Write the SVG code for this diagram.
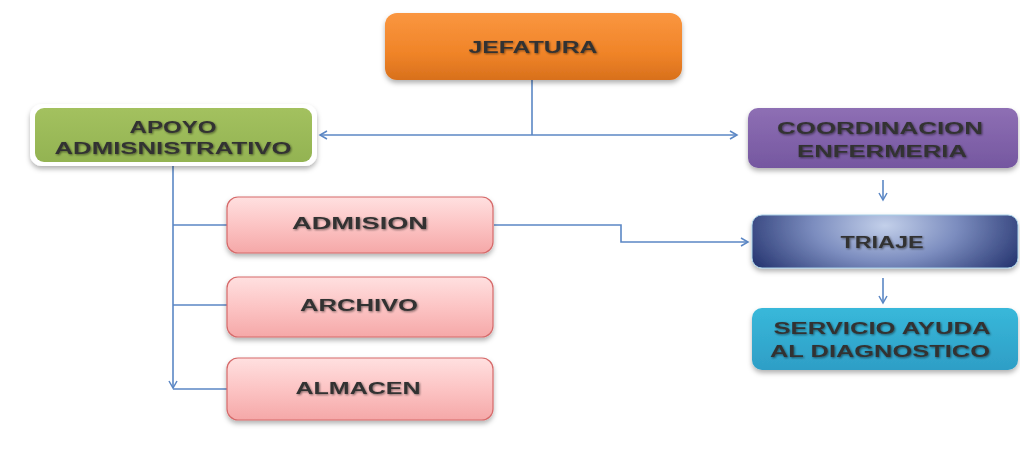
<svg xmlns="http://www.w3.org/2000/svg" width="1020" height="450" viewBox="0 0 1020 450">
<defs>
<linearGradient id="gOrange" x1="0" y1="0" x2="0" y2="1"><stop offset="0" stop-color="#FA9640"/><stop offset="0.6" stop-color="#F08428"/><stop offset="1" stop-color="#D8701C"/></linearGradient>
<linearGradient id="gGreen" x1="0" y1="0" x2="0" y2="1"><stop offset="0" stop-color="#A3C15F"/><stop offset="1" stop-color="#93B352"/></linearGradient>
<linearGradient id="gPurple" x1="0" y1="0" x2="0" y2="1"><stop offset="0" stop-color="#8E6FB4"/><stop offset="1" stop-color="#7557A0"/></linearGradient>
<radialGradient id="gNavy" cx="0.5" cy="0.2" r="0.6" gradientTransform="translate(0.5 0.2) scale(1 2.5) translate(-0.5 -0.2)"><stop offset="0" stop-color="#C3D0EA"/><stop offset="0.45" stop-color="#7C8DBF"/><stop offset="1" stop-color="#1F2E6A"/></radialGradient>
<linearGradient id="gCyan" x1="0" y1="0" x2="0" y2="1"><stop offset="0" stop-color="#38B8DA"/><stop offset="1" stop-color="#2E9EC6"/></linearGradient>
<linearGradient id="gPink" x1="0" y1="0" x2="0" y2="1"><stop offset="0" stop-color="#FFE0E0"/><stop offset="0.5" stop-color="#FCC4C4"/><stop offset="1" stop-color="#F5A8A8"/></linearGradient>
<filter id="sh" x="-10%" y="-20%" width="120%" height="150%"><feDropShadow dx="0" dy="3" stdDeviation="2.5" flood-color="#000" flood-opacity="0.3"/></filter>
<filter id="tsh" x="-5%" y="-20%" width="110%" height="140%"><feGaussianBlur in="SourceAlpha" stdDeviation="0.8" result="b"/><feOffset in="b" dx="0.5" dy="0.8" result="o"/><feFlood flood-color="#000" flood-opacity="0.5"/><feComposite in2="o" operator="in" result="s"/><feMerge><feMergeNode in="s"/><feMergeNode in="SourceGraphic"/></feMerge></filter>
<marker id="arr" markerWidth="10" markerHeight="10" refX="8" refY="5" orient="auto" markerUnits="userSpaceOnUse"><path d="M1,1 L8,5 L1,9" fill="none" stroke="#5B87C5" stroke-width="1.5"/></marker>
</defs>
<style>
.t{font-family:"Liberation Sans",Arial,sans-serif;font-weight:bold;font-size:16px;fill:#333;text-anchor:middle;filter:url(#tsh)}
.c{fill:none;stroke:#5B87C5;stroke-width:1.6}
.box{filter:url(#sh)}
</style>
<rect width="1020" height="450" fill="#fff"/>
<g id="connectors">
<path class="c" d="M532,80 V135"/>
<path class="c" d="M532,135 H320" marker-end="url(#arr)"/>
<path class="c" d="M532,135 H737" marker-end="url(#arr)"/>
<path class="c" d="M173,163 V388" marker-end="url(#arr)"/>
<path class="c" d="M173,225 H227 M173,305 H227 M173,389 H227"/>
<path class="c" d="M494,225 H621 V242 H748" marker-end="url(#arr)"/>
<path class="c" d="M883,180 V200" marker-end="url(#arr)"/>
<path class="c" d="M883,278 V303" marker-end="url(#arr)"/>
</g>
<g id="jefatura"><rect class="box" x="385" y="13" width="297" height="67" rx="12" fill="url(#gOrange)"/><text class="t" x="533" y="53" textLength="129" lengthAdjust="spacingAndGlyphs">JEFATURA</text></g>
<g id="apoyo"><rect x="30" y="104" width="287" height="62" rx="12" fill="#fff" class="box"/><rect x="35" y="108" width="277" height="54" rx="9" fill="url(#gGreen)"/><text class="t" x="173" y="133" textLength="87" lengthAdjust="spacingAndGlyphs">APOYO</text><text class="t" x="173" y="154" textLength="237" lengthAdjust="spacingAndGlyphs">ADMISNISTRATIVO</text></g>
<g id="coordinacion"><rect class="box" x="748" y="108" width="270" height="60" rx="10" fill="url(#gPurple)"/><text class="t" x="880" y="134" textLength="206" lengthAdjust="spacingAndGlyphs">COORDINACION</text><text class="t" x="882" y="157" textLength="170" lengthAdjust="spacingAndGlyphs">ENFERMERIA</text></g>
<g id="triaje"><rect class="box" x="752" y="215" width="266" height="53" rx="10" fill="url(#gNavy)" stroke="#A8D0E8" stroke-width="1"/><text class="t" x="882" y="248" textLength="83" lengthAdjust="spacingAndGlyphs">TRIAJE</text></g>
<g id="servicio"><rect class="box" x="752" y="308" width="266" height="62" rx="10" fill="url(#gCyan)"/><text class="t" x="882" y="334" textLength="217" lengthAdjust="spacingAndGlyphs">SERVICIO AYUDA</text><text class="t" x="880" y="357" textLength="220" lengthAdjust="spacingAndGlyphs">AL DIAGNOSTICO</text></g>
<g id="admision"><rect class="box" x="227" y="197" width="266" height="56" rx="11" fill="url(#gPink)" stroke="#D66A6A" stroke-width="1.2"/><text class="t" x="360" y="229" textLength="136" lengthAdjust="spacingAndGlyphs">ADMISION</text></g>
<g id="archivo"><rect class="box" x="227" y="277" width="266" height="60" rx="11" fill="url(#gPink)" stroke="#D66A6A" stroke-width="1.2"/><text class="t" x="359" y="311" textLength="118" lengthAdjust="spacingAndGlyphs">ARCHIVO</text></g>
<g id="almacen"><rect class="box" x="227" y="358" width="266" height="62" rx="11" fill="url(#gPink)" stroke="#D66A6A" stroke-width="1.2"/><text class="t" x="358" y="394" textLength="125" lengthAdjust="spacingAndGlyphs">ALMACEN</text></g>
</svg>
